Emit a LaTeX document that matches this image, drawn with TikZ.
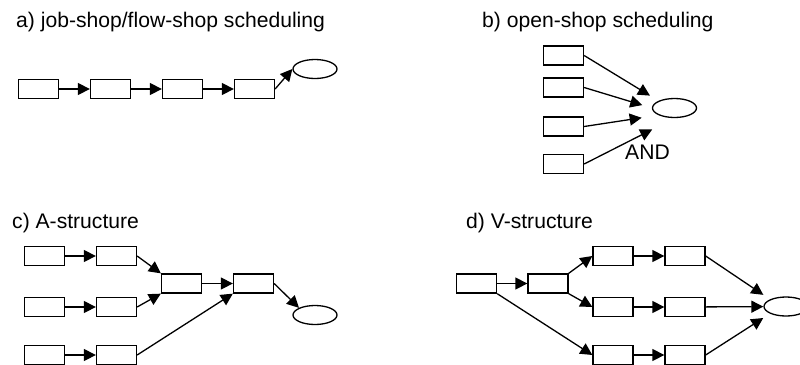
\documentclass[tikz,border=0pt]{standalone}
\usepackage{fontspec}
\setmainfont{Liberation Sans}
\usetikzlibrary{arrows.meta,shapes.geometric}

\begin{document}
\begin{tikzpicture}[x=1bp, y=-1bp,
    kotak/.style={draw, line width=1.3bp, minimum width=40bp, minimum height=19bp, inner sep=0pt},
    akhir/.style={draw, ellipse, line width=1.3bp, minimum width=44bp, minimum height=19bp, inner sep=0pt},
    panah/.style={line width=1.3bp, -{Triangle[length=12bp,width=12bp]}},
    judul/.style={anchor=base west, inner sep=0pt, font=\fontsize{21.2}{25}\selectfont}]
    \useasboundingbox (0,0) rectangle (800,364);

    % a) job-shop/flow-shop
    \node[judul] (ja) at (16,27) {a) job-shop/flow-shop scheduling};
    \foreach \i in {1,...,4} \node[kotak] (a\i) at ({38.5+72*(\i-1)},89) {};
    \node[akhir] (ao) at (315,69) {};
    \foreach \i/\j in {1/2,2/3,3/4} \draw[panah] (a\i) -- (a\j);
    \draw[panah] (a4.east) -- (ao.west);

    % b) open-shop
    \node[judul] (jb) at (482,27) {b) open-shop scheduling};
    \foreach \i/\y in {1/55.5,2/87.5,3/126.5,4/164} \node[kotak] (b\i) at (563.5,\y) {};
    \node[akhir] (bo) at (674.5,108) {};
    \draw[panah, shorten >=10bp] (b1.east) -- (bo.north west);
    \draw[panah, shorten >=10bp] (b2.east) -- (bo.west);
    \draw[panah, shorten >=17bp] (b3.east) -- (bo.south west);
    \draw[panah, shorten >=25bp] (b4.east) -- (bo.south);
    \node[inner sep=0pt, font=\fontsize{21.2}{25}\selectfont] (and) at (647.5,152.5) {AND};

    % c) A-structure
    \node[judul] (jc) at (12,228) {c) A-structure};
    \foreach \i/\y in {1/256,2/307,3/355} {
        \node[kotak] (c\i a) at (44.5,\y) {};
        \node[kotak] (c\i b) at (116.5,\y) {};
        \draw[panah] (c\i a) -- (c\i b);
    }
    \node[kotak] (cm) at (181.5,283.5) {};
    \node[kotak] (cn) at (253.5,283.5) {};
    \node[akhir] (co) at (315,315) {};
    \draw[panah] (c1b.east) -- (cm.north west);
    \draw[panah] (c2b.east) -- (cm.south west);
    \draw[panah] (c3b.east) -- (cn.south west);
    \draw[panah] (cm) -- (cn);
    \draw[panah] (cn.east) -- (co.north west);

    % d) V-structure
    \node[judul] (jd) at (466,228) {d) V-structure};
    \node[kotak] (d1) at (476.5,283.5) {};
    \node[kotak] (d2) at (548,283.5) {};
    \foreach \i/\y in {1/256,2/307,3/355} {
        \node[kotak] (d\i a) at (613,\y) {};
        \node[kotak] (d\i b) at (685,\y) {};
        \draw[panah] (d\i a) -- (d\i b);
    }
    \node[akhir] (do) at (786,306.5) {};
    \draw[panah] (d1) -- (d2);
    \draw[panah] (d2.north east) -- (d1a.west);
    \draw[panah] (d2.south east) -- (d2a.west);
    \draw[panah] (d1.south east) -- (d3a.west);
    \draw[panah, shorten >=8bp] (d1b.east) -- (do.north west);
    \draw[panah] (d2b) -- (do);
    \draw[panah, shorten >=8bp] (d3b.east) -- (do.south west);
\end{tikzpicture}
\end{document}
